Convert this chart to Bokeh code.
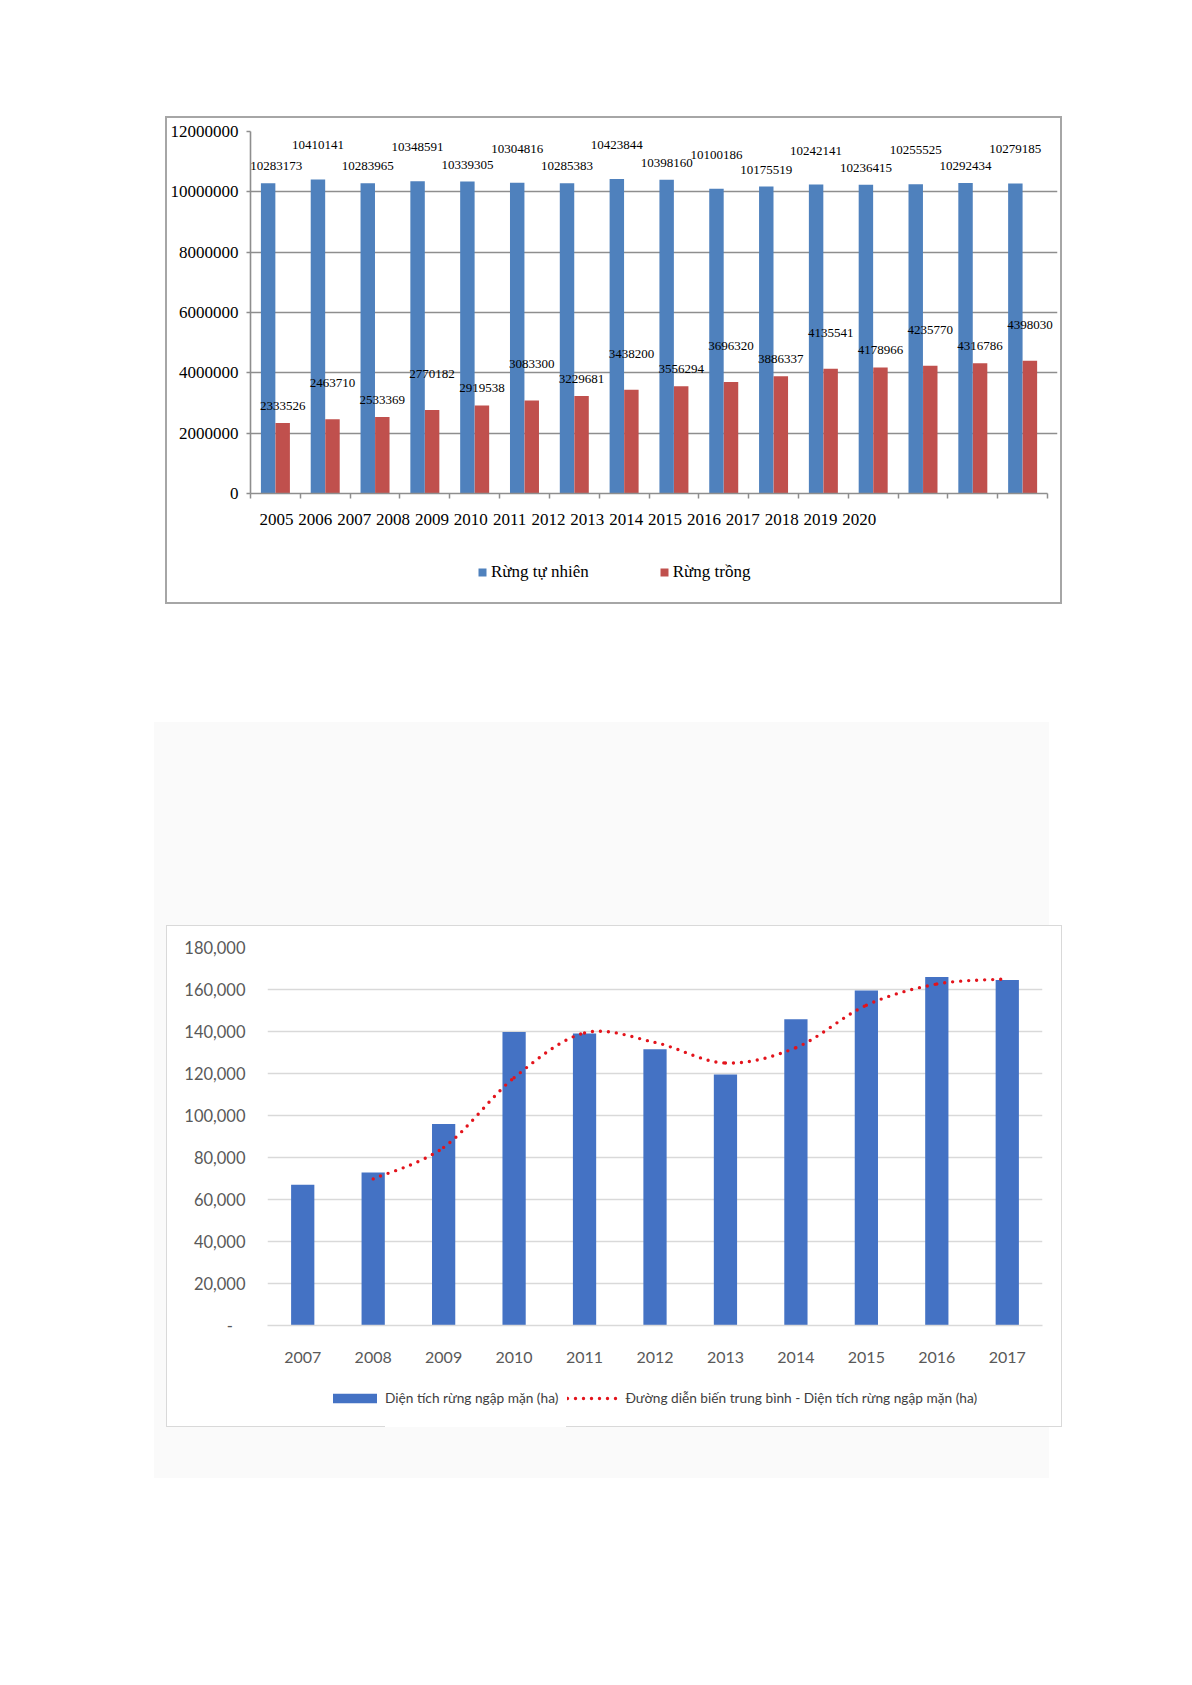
from bokeh.plotting import figure
from bokeh.models import (ColumnDataSource, Range1d, FixedTicker, NumeralTickFormatter,
                          LabelSet, Legend, LegendItem, Spacer)
from bokeh.layouts import column, row
from bokeh.core.properties import value
from bokeh.embed import file_html
from bokeh.resources import INLINE

# ---------------- data: chart 1 ----------------
years1 = ["2005", "2006", "2007", "2008", "2009", "2010", "2011", "2012",
          "2013", "2014", "2015", "2016", "2017", "2018", "2019", "2020"]
natural = [10283173, 10410141, 10283965, 10348591, 10339305, 10304816, 10285383, 10423844,
           10398160, 10100186, 10175519, 10242141, 10236415, 10255525, 10292434, 10279185]
planted = [2333526, 2463710, 2533369, 2770182, 2919538, 3083300, 3229681, 3438200,
           3556294, 3696320, 3886337, 4135541, 4178966, 4235770, 4316786, 4398030]
y1_ticks = [0, 2000000, 4000000, 6000000, 8000000, 10000000, 12000000]
names1 = ["Rừng tự nhiên", "Rừng trồng"]

# ---------------- data: chart 2 ----------------
years2 = ["2007", "2008", "2009", "2010", "2011", "2012", "2013", "2014", "2015", "2016", "2017"]
area = [67000, 72800, 96000, 139800, 139000, 131500, 119500, 145800, 159500, 166000, 164500]
trend_years = ["2008", "2009", "2010", "2011", "2012", "2013", "2014", "2015", "2016", "2017"]
trend = [69800, 84800, 118000, 139300, 134800, 125000, 132300, 152500, 162600, 165000]
y2_ticks = [0, 20000, 40000, 60000, 80000, 100000, 120000, 140000, 160000, 180000]
names2 = ["Diện tích rừng ngập mặn (ha)",
          "Đường diễn biến trung bình - Diện tích rừng ngập mặn (ha)"]

BLUE1 = "#4F81BD"
RED1 = "#C0504D"
GRID1 = "#8e8e8e"
SERIF = "'Liberation Serif'"


def legend_figure(width, height):
    f = figure(width=width, height=height, x_range=Range1d(0, 1), y_range=Range1d(0, 1),
               x_axis_type=None, y_axis_type=None, output_backend="svg", toolbar_location=None,
               min_border=0, outline_line_color=None,
               background_fill_color=None, border_fill_color=None)
    f.xgrid.visible = False
    f.ygrid.visible = False
    return f


# ================= chart 1 =================
n1 = len(years1)
idx = list(range(n1))
p1 = figure(width=893, height=427, x_range=Range1d(0, n1 + 0.2), y_range=Range1d(0, 12000000),
            output_backend="svg", toolbar_location=None,
            min_border_left=83, min_border_right=3, min_border_top=13, min_border_bottom=52,
            background_fill_color="white", border_fill_color="white", outline_line_color=None)

src1 = ColumnDataSource(dict(
    xn=[i + 0.5 - 0.146 for i in idx],
    xp=[i + 0.5 + 0.146 for i in idx],
    nat=natural, pla=planted,
    nat_lbl=[str(v) for v in natural],
    pla_lbl=[str(v) for v in planted],
    off_n=[17 if i % 2 == 0 else 34 for i in idx],
    off_p=[17 if i % 2 == 0 else 36 for i in idx],
    nudge=[8 if i == 0 else 0 for i in idx],
    zero=[0 for i in idx],
))
p1.vbar(x="xn", top="nat", width=0.29, source=src1, fill_color=BLUE1, line_color=None)
p1.vbar(x="xp", top="pla", width=0.29, source=src1, fill_color=RED1, line_color=None)

for xf, yf, tf, of, nf in [("xn", "nat", "nat_lbl", "off_n", "nudge"),
                           ("xp", "pla", "pla_lbl", "off_p", "zero")]:
    p1.add_layout(LabelSet(x=xf, y=yf, text=tf, y_offset=of, x_offset=nf, source=src1,
                           text_align="center", text_baseline="middle",
                           text_font=value("Liberation Serif"), text_font_size="13px",
                           text_color="black"))

xt = [round(0.522 + 0.78 * i, 3) for i in idx]
p1.xaxis.ticker = FixedTicker(ticks=xt, minor_ticks=list(range(n1 + 1)))
p1.xaxis.bounds = (0, n1)
p1.xaxis.major_label_overrides = {t: y for t, y in zip(xt, years1)}
p1.xaxis.major_tick_out = 0
p1.xaxis.major_tick_in = 0
p1.xaxis.minor_tick_out = 5
p1.xaxis.minor_tick_in = 0
p1.xaxis.minor_tick_line_color = GRID1
p1.xaxis.minor_tick_line_width = 1.5
p1.xaxis.axis_line_color = GRID1
p1.xaxis.axis_line_width = 1.6
p1.xaxis.major_label_text_font = SERIF
p1.xaxis.major_label_text_font_size = "17px"
p1.xaxis.major_label_text_color = "black"
p1.xaxis.major_label_standoff = 15

p1.yaxis.ticker = FixedTicker(ticks=y1_ticks)
p1.ygrid.ticker = FixedTicker(ticks=y1_ticks)
p1.ygrid.bounds = (0, n1)
p1.yaxis.formatter = NumeralTickFormatter(format="0")
p1.yaxis.major_tick_out = 4
p1.yaxis.major_tick_in = 0
p1.yaxis.minor_tick_out = 0
p1.yaxis.minor_tick_in = 0
p1.yaxis.major_tick_line_color = GRID1
p1.yaxis.major_tick_line_width = 1.5
p1.yaxis.axis_line_color = GRID1
p1.yaxis.axis_line_width = 1.6
p1.yaxis.major_label_text_font = SERIF
p1.yaxis.major_label_text_font_size = "17px"
p1.yaxis.major_label_text_color = "black"
p1.yaxis.major_label_standoff = 8
p1.xgrid.visible = False
p1.ygrid.grid_line_color = GRID1
p1.ygrid.grid_line_width = 1.6

# legend strip of chart 1 (zero-size swatch renderers carry the legend styling)
lf1 = legend_figure(893, 57)
ln = lf1.vbar(x=[0.5], bottom=[0.5], top=[0.5], width=0, fill_color=BLUE1, line_color=None)
lp = lf1.vbar(x=[0.5], bottom=[0.5], top=[0.5], width=0, fill_color=RED1, line_color=None)
leg1 = Legend(items=[LegendItem(label=names1[0], renderers=[ln]),
                     LegendItem(label=names1[1], renderers=[lp])],
              orientation="horizontal", location=(227, 20),
              glyph_width=10, glyph_height=10, label_standoff=4, spacing=70,
              padding=0, margin=0, label_height=20,
              label_text_font=SERIF, label_text_font_size="17px", label_text_color="black",
              border_line_color=None, background_fill_alpha=0)
lf1.add_layout(leg1, "center")

inner1 = column(p1, lf1, styles={"background-color": "white"})
box1 = column(Spacer(height=2),
              row(Spacer(width=2), inner1, Spacer(width=2)),
              Spacer(height=2),
              styles={"background-color": "#a6a6a6"})

# ================= chart 2 =================
BLUE2 = "#4472C4"
RED2 = "#E3141C"
GRID2 = "#d9d9d9"
SANS = "Lato"
n2 = len(years2)
p2 = figure(width=894, height=453, x_range=Range1d(0, n2), y_range=Range1d(0, 180000),
            output_backend="svg", toolbar_location=None,
            min_border_left=100, min_border_right=19, min_border_top=21, min_border_bottom=54,
            background_fill_color="white", border_fill_color="white", outline_line_color=None)

xc2 = [i + 0.5 for i in range(n2)]
p2.vbar(x=xc2, top=area, width=0.33, fill_color=BLUE2, line_color=None)

# smoothed (Catmull-Rom style) trend line drawn as bezier segments through the read points
tx = [years2.index(y) + 0.5 for y in trend_years]
pts = list(zip(tx, trend))
bx0, by0, bx1, by1, cx0, cy0, cx1, cy1 = [], [], [], [], [], [], [], []
m = len(pts)
for k in range(m - 1):
    pa = pts[k - 1] if k > 0 else pts[k]
    pb, pc = pts[k], pts[k + 1]
    pd = pts[k + 2] if k + 2 < m else pts[k + 1]
    bx0.append(pb[0]); by0.append(pb[1]); bx1.append(pc[0]); by1.append(pc[1])
    cx0.append(pb[0] + (pc[0] - pa[0]) / 6.0); cy0.append(pb[1] + (pc[1] - pa[1]) / 6.0)
    cx1.append(pc[0] - (pd[0] - pb[0]) / 6.0); cy1.append(pc[1] - (pd[1] - pb[1]) / 6.0)
p2.bezier(x0=bx0, y0=by0, x1=bx1, y1=by1, cx0=cx0, cy0=cy0, cx1=cx1, cy1=cy1,
          line_color=RED2, line_width=3.4, line_dash="0 8", line_cap="round")

p2.xaxis.ticker = FixedTicker(ticks=xc2)
p2.xaxis.major_label_overrides = {x: y for x, y in zip(xc2, years2)}
p2.xaxis.major_tick_out = 0
p2.xaxis.major_tick_in = 0
p2.xaxis.minor_tick_out = 0
p2.xaxis.minor_tick_in = 0
p2.xaxis.axis_line_color = GRID2
p2.xaxis.axis_line_width = 1.4
p2.xaxis.major_label_text_font = SANS
p2.xaxis.major_label_text_font_size = "16px"
p2.xaxis.major_label_text_color = "#595959"
p2.xaxis.major_label_standoff = 26

p2.yaxis.ticker = FixedTicker(ticks=y2_ticks)
p2.ygrid.ticker = FixedTicker(ticks=y2_ticks)
p2.yaxis.formatter = NumeralTickFormatter(format="0,0")
p2.yaxis.major_label_overrides = {0: "-\u00a0\u00a0\u00a0"}
p2.yaxis.axis_line_color = None
p2.yaxis.major_tick_line_color = None
p2.yaxis.minor_tick_line_color = None
p2.yaxis.major_label_text_font = SANS
p2.yaxis.major_label_text_font_size = "16.5px"
p2.yaxis.major_label_text_color = "#595959"
p2.yaxis.major_label_standoff = 16
p2.xgrid.visible = False
p2.ygrid.grid_line_color = GRID2
p2.ygrid.grid_line_width = 1.4

# legend strip of chart 2 (zero-size swatch renderers carry the legend styling)
lf2 = legend_figure(894, 47)
lb = lf2.vbar(x=[0.5], bottom=[0.5], top=[0.5], width=0, fill_color=BLUE2, line_color=None)
ll = lf2.line(x=[0.2, 0.8], y=[5, 5], line_color=RED2, line_width=3.4,
              line_dash="0 8", line_cap="round")
leg2 = Legend(items=[LegendItem(label=names2[0], renderers=[lb]),
                     LegendItem(label=names2[1], renderers=[ll])],
              orientation="horizontal", location=(60, 20),
              glyph_width=55, glyph_height=12, label_standoff=3, spacing=9,
              padding=0, margin=0, label_height=16,
              label_text_font=SANS, label_text_font_size="13.7px", label_text_color="#404040",
              border_line_color=None, background_fill_alpha=0)
lf2.add_layout(leg2, "center")

inner2 = column(p2, lf2, styles={"background-color": "white"})
bottom_edge2 = row(Spacer(width=219, height=1),
                   Spacer(width=181, height=1, styles={"background-color": "white"}))
box2 = column(Spacer(height=1),
              row(Spacer(width=1), inner2, Spacer(width=1)),
              bottom_edge2,
              styles={"background-color": "#d9d9d9"})

GRAY_BG = {"background-color": "#fafafa"}
gray_box = column(Spacer(width=895, height=203, styles=GRAY_BG),
                  row(Spacer(width=12, height=502, styles=GRAY_BG), box2),
                  Spacer(width=895, height=51, styles=GRAY_BG))

layout = column(
    Spacer(height=116),
    row(Spacer(width=165), box1),
    Spacer(height=118),
    row(Spacer(width=154), gray_box),
)

open("out.html", "w").write(file_html(layout, INLINE, title="Charts"))
